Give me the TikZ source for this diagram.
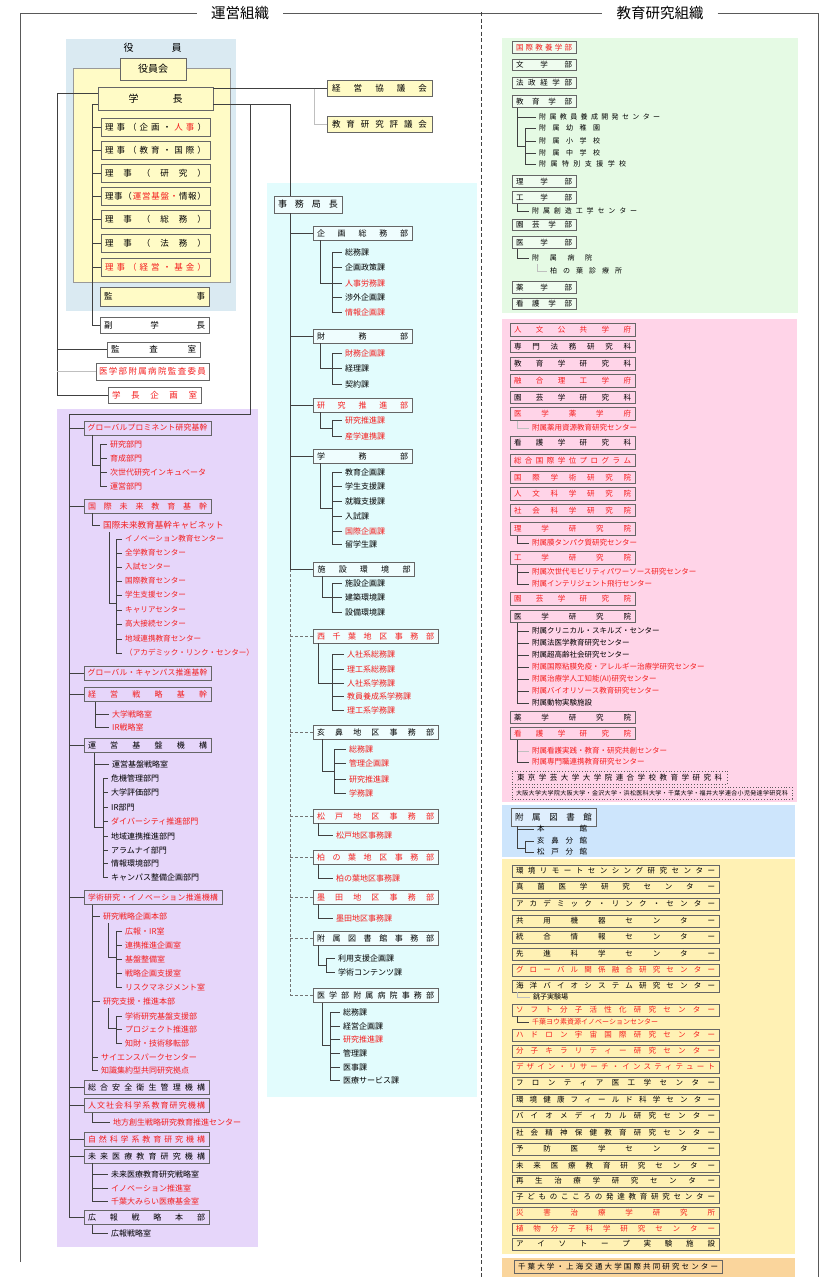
\documentclass[tikz,border=0pt]{standalone}
\usepackage{fontspec}
\setmainfont{Noto Sans CJK JP}

\definecolor{jred}{HTML}{F41E1E}
\definecolor{bgblue}{HTML}{DAEAF2}
\definecolor{bgyel}{HTML}{FFFBC6}
\definecolor{bgcyan}{HTML}{E2FCFD}
\definecolor{bgpurp}{HTML}{E6D6FA}
\definecolor{bggreen}{HTML}{E5FAE4}
\definecolor{bgpink}{HTML}{FFD4E8}
\definecolor{bglblue}{HTML}{CDE5FC}
\definecolor{bgcent}{HTML}{FFF1B4}
\definecolor{bgorange}{HTML}{FAD59C}

\newcommand\fsz[1]{\fontsize{#1}{#1}\selectfont}
\newcommand\rd[1]{\textcolor{jred}{#1}}

% spread the characters of #2 evenly over #1 pt
\makeatletter
\def\sp@endmark{\sp@end}
\def\sp@loop#1{\def\sp@arg{#1}%
  \ifx\sp@arg\sp@endmark\else
    \ifx\sp@first\@empty\hfil\fi
    \let\sp@first\@empty{#1}%
    \expandafter\sp@loop
  \fi}
\newcommand\spr[2]{\makebox[#1pt][s]{\let\sp@first\relax\expandafter\sp@loop#2\sp@end}}
\makeatother

\begin{document}
\begin{tikzpicture}[x=1pt, y=-1pt,
    rule/.style={draw=black!65, line width=0.8pt},
    divider/.style={draw=black!75, line width=1pt, dash pattern=on 4pt off 2.5pt},
    ln/.style={draw=black!75, line width=0.9pt},
    lnl/.style={draw=black!25, line width=0.9pt},
    lnd/.style={draw=black!55, line width=0.8pt, dash pattern=on 3pt off 2pt},
    ttl/.style={inner sep=14pt, font=\fsz{14.5}},
    bx/.style={draw=black!60, line width=0.9pt, inner sep=0pt, font=\fsz{8}},
    dbox/.style={bx, fill=white!45!bgcyan, minimum height=14pt},
    pbox/.style={bx, fill=bgpurp, minimum width=127pt, minimum height=14pt},
    fbox/.style={bx, fill=white!40!bggreen, minimum width=64pt, minimum height=11.5pt, font=\fsz{7.5}},
    gbox/.style={bx, fill=bgpink, minimum width=125pt, minimum height=12.5pt, font=\fsz{7.5}},
    cbox/.style={bx, fill=bgcent, minimum width=207pt, minimum height=12pt, font=\fsz{7.5}},
    dotbox/.style={draw=black!65, line width=0.8pt, dotted, inner sep=0pt},
    item/.style={anchor=west, inner sep=3pt, font=\fsz{8}},
    sitem/.style={anchor=west, inner sep=3pt, font=\fsz{7.5}}]

  \useasboundingbox (0,0) rectangle (821,1277);

  % --- Backgrounds ---
  \fill[bgblue] (66,39) rectangle (236,311);
  \filldraw[fill=bgyel, draw=black!40, line width=0.9pt] (73,68) rectangle (230,282);
  \fill[bgcyan] (267,183) rectangle (477,1097);
  \fill[bgpurp] (57,409) rectangle (258,1247);
  \fill[bggreen] (502,38) rectangle (798,313);
  \fill[bgpink] (502,319) rectangle (797,802);
  \fill[bglblue] (502,805) rectangle (795,857);
  \fill[bgcent] (502,859) rectangle (795,1254);
  \fill[bgorange] (502,1258) rectangle (795,1277);

  % --- Section titles and frame ---
  \node[ttl] (tunei) at (240,13) {運営組織};
  \node[ttl] (tkyoiku) at (660,13) {教育研究組織};
  \draw[rule] (20,1262) |- (tunei.west);
  \draw[rule] (tunei.east) -- (tkyoiku.west);
  \draw[rule] (tkyoiku.east) -| (818,1277);
  \draw[divider] (481,12) -- (481,1277);

  % --- Officers ---
  \node[font=\fsz{10}, inner sep=0pt] (yakuin) at (152.5,48) {\spr{58}{役員}};
  \node[bx, fill=bgyel, minimum width=66pt, minimum height=22pt, font=\fsz{10}] (yakuinkai) at (153,69) {役員会};
  \node[bx, fill=bgyel, minimum width=115pt, minimum height=23pt, font=\fsz{10}] (gakucho) at (155.5,98.5) {\spr{54}{学長}};
  \foreach \i/\y/\txt/\col in {1/127/{理事（企画・{\rd{人}}{\rd{事}}）}/black,2/150/理事（教育・国際）/black,
      3/173/理事（研究）/black,4/196/{理事（{\rd{運}}{\rd{営}}{\rd{基}}{\rd{盤}}{\rd{・}}情報）}/black,
      5/219/理事（総務）/black,6/243/理事（法務）/black,7/267/理事（経営・基金）/jred}
    \node[bx, fill=bgyel, minimum width=109pt, minimum height=18pt, font=\fsz{8.5}, text=\col] (riji\i) at (155.5,\y) {\spr{101}{\txt}};
  \node[bx, fill=bgyel, minimum width=109pt, minimum height=19pt, font=\fsz{8.5}] (kanji) at (154.5,296.5) {\spr{101}{監事}};
  \node[bx, fill=white, minimum width=109pt, minimum height=16pt, font=\fsz{8.5}] (fuku) at (154.5,325) {\spr{101}{副学長}};
  \node[bx, fill=white, minimum width=93pt, minimum height=15pt, font=\fsz{8.5}] (kansa) at (153.5,349.5) {\spr{85}{監査室}};
  \node[bx, fill=white, minimum width=113pt, minimum height=17pt, font=\fsz{8.5}, text=jred] (iinkai) at (152.5,371.5) {\spr{107}{医学部附属病院監査委員}};
  \node[bx, fill=white, minimum width=93pt, minimum height=16pt, font=\fsz{8.5}, text=jred] (kikaku) at (154.5,395) {\spr{85}{学長企画室}};

  \node[bx, fill=bgyel, minimum width=105pt, minimum height=16pt, font=\fsz{8.5}] (keieikyo) at (379.5,88.5) {\spr{95}{経営協議会}};
  \node[bx, fill=bgyel, minimum width=105pt, minimum height=16pt, font=\fsz{8.5}] (hyogikai) at (379.5,124) {\spr{95}{教育研究評議会}};

  \coordinate (rspine) at (92,0);
  \draw[ln] ([yshift=-5.5pt]gakucho.west) -| (rspine |- fuku.west) -- (fuku.west);
  \foreach \i in {1,...,7}
    \draw[ln] (rspine |- riji\i.west) -- (riji\i.west);
  \coordinate (lspine) at (57,0);
  \draw[ln] ([yshift=5.5pt]gakucho.west) -| (lspine |- kikaku.west) -- (kikaku.west);
  \draw[ln] (lspine |- kansa.west) -- (kansa.west);
  \draw[lnl] (lspine |- iinkai.west) -- (iinkai.west);
  \draw[ln] (gakucho.east |- keieikyo.west) -- (keieikyo.west);
  \draw[lnl] ([xshift=-12pt]keieikyo.west) |- (hyogikai.west);

  % --- Secretariat ---
  \node[bx, fill=white!45!bgcyan, minimum width=68pt, minimum height=17pt, font=\fsz{9}] (jimucho) at (308,204.5) {\spr{60}{事務局長}};
  \foreach \n/\x/\y/\w/\s/\txt/\col in {1/362.5/233/99/91/企画総務部/black,2/362.5/336/99/91/財務部/black,
      3/362.5/405/99/91/研究推進部/jred,4/362.5/456/99/91/学務部/black,5/364/569/101/93/施設環境部/black,
      6/375.5/636/125/117/西千葉地区事務部/jred,7/375.5/732/125/117/亥鼻地区事務部/black,
      8/375.5/816/125/117/松戸地区事務部/jred,9/375.5/857/125/117/柏の葉地区事務部/jred,
      10/375.5/897/125/117/墨田地区事務部/jred,11/375.5/938/125/117/附属図書館事務部/black,
      12/375.5/995.5/125/117/医学部附属病院事務部/black}
    \node[dbox, minimum width=\w pt, text=\col] (d\n) at (\x,\y) {\spr{\s}{\txt}};

  \foreach \i/\y/\txt/\col in {1/252/総務課/black,2/267/企画政策課/black,3/283/人事労務課/jred,4/297/渉外企画課/black,5/312/情報企画課/jred}
    \node[item, text=\col] (d1c\i) at (342,\y) {\txt};
  \foreach \i/\y/\txt/\col in {1/353/財務企画課/jred,2/368/経理課/black,3/384/契約課/black}
    \node[item, text=\col] (d2c\i) at (342,\y) {\txt};
  \foreach \i/\y/\txt in {1/420/研究推進課,2/436/産学連携課}
    \node[item, text=jred] (d3c\i) at (342,\y) {\txt};
  \foreach \i/\y/\txt/\col in {1/472/教育企画課/black,2/486/学生支援課/black,3/501/就職支援課/black,4/516/入試課/black,5/531/国際企画課/jred,6/544/留学生課/black}
    \node[item, text=\col] (d4c\i) at (342,\y) {\txt};
  \foreach \i/\y/\txt in {1/583/施設企画課,2/597/建築環境課,3/612/設備環境課}
    \node[item] (d5c\i) at (342,\y) {\txt};
  \foreach \i/\y/\txt in {1/654/人社系総務課,2/669/理工系総務課,3/683/人社系学務課,4/696/教員養成系学務課,5/710/理工系学務課}
    \node[item, text=jred] (d6c\i) at (344,\y) {\txt};
  \foreach \i/\y/\txt in {1/749/総務課,2/763/管理企画課,3/779/研究推進課,4/793/学務課}
    \node[item, text=jred] (d7c\i) at (346,\y) {\txt};
  \node[item, text=jred] (d8c1) at (333,835) {松戸地区事務課};
  \node[item, text=jred] (d9c1) at (333,878) {柏の葉地区事務課};
  \node[item, text=jred] (d10c1) at (333,918) {墨田地区事務課};
  \foreach \i/\y/\txt in {1/958/利用支援企画課,2/972/学術コンテンツ課}
    \node[item] (d11c\i) at (335,\y) {\txt};
  \foreach \i/\y/\txt/\col in {1/1012/総務課/black,2/1026/経営企画課/black,3/1039/研究推進課/jred,4/1053/管理課/black,5/1067/医事課/black,6/1080/医療サービス課/black}
    \node[item, text=\col] (d12c\i) at (340,\y) {\txt};

  \coordinate (jspine) at (290,0);
  \draw[ln] ([yshift=-5.5pt]gakucho.east) -| (jspine |- jimucho.north);
  \draw[ln] (jspine |- jimucho.south) -- (jspine |- d5.west);
  \draw[lnd] (jspine |- d5.west) -- (jspine |- d12.west);
  \foreach \n in {1,...,5}
    \draw[ln] (jspine |- d\n.west) -- (d\n.west);
  \foreach \n in {6,...,12}
    \draw[lnd] (jspine |- d\n.west) -- (d\n.west);
  \foreach \g/\n/\dx/\jx/\jy in {d1/5/320/332/283,d2/3/320/332/368,d3/2/320/332/428,d4/6/320/332/508,
      d5/3/322/332/597,d6/5/318/332/683,d7/4/322/334/771,d8/1/318/333/835,d9/1/318/333/878,
      d10/1/318/333/918,d11/2/318/326/965,d12/6/322/330/1045} {
    \coordinate (\g-d) at (\dx,0);
    \coordinate (\g-j) at (\jx,\jy);
    \draw[ln] (\g-d |- \g.south) |- (\g-j);
    \draw[ln] (\g-j |- \g c1.west) -- (\g-j |- \g c\n.west);
    \foreach \i in {1,...,\n}
      \draw[ln] (\g-j |- \g c\i.west) -- (\g c\i.west);
  }

  % --- Promotion bodies (purple) ---
  \node[pbox, text=jred, font=\fsz{7.8}] (gp) at (147.5,428) {\spr{120}{グローバルプロミネント研究基幹}};
  \node[pbox, text=jred] (kmk) at (147.5,506) {\spr{119}{国際未来教育基幹}};
  \node[pbox, text=jred, font=\fsz{7.8}] (gcp) at (147.5,673) {\spr{120}{グローバル・キャンパス推進基幹}};
  \node[pbox, text=jred] (ksk) at (147.5,694.5) {\spr{119}{経営戦略基幹}};
  \node[pbox] (ukk) at (147.5,745.5) {\spr{119}{運営基盤機構}};
  \node[pbox, text=jred, minimum width=138pt, font=\fsz{7.8}] (gik) at (153,897.5) {\spr{130}{学術研究・イノベーション推進機構}};
  \node[pbox, minimum width=125pt] (sak) at (146.5,1087) {\spr{117}{総合安全衛生管理機構}};
  \node[pbox, minimum width=125pt, text=jred] (jsk) at (146.5,1105.5) {\spr{117}{人文社会科学系教育研究機構}};
  \node[pbox, minimum width=125pt, text=jred] (sks) at (146.5,1139) {\spr{117}{自然科学系教育研究機構}};
  \node[pbox, minimum width=125pt] (mik) at (146.5,1156) {\spr{117}{未来医療教育研究機構}};
  \node[pbox, minimum width=125pt] (kho) at (146.5,1217.5) {\spr{117}{広報戦略本部}};

  \coordinate (pbr) at (250,104);
  \coordinate (ptop) at (69,414);
  \draw[ln] (pbr) |- (ptop);
  \draw[ln] (ptop) -- (ptop |- kho.west);
  \foreach \b in {gp,kmk,gcp,ksk,ukk,gik,sak,jsk,sks,mik,kho}
    \draw[ln] (ptop |- \b.west) -- (\b.west);

  % グローバルプロミネント研究基幹
  \foreach \i/\y/\txt in {1/444/研究部門,2/458/育成部門,3/472/次世代研究インキュベータ,4/486/運営部門}
    \node[item, text=jred] (gp\i) at (107,\y) {\txt};
  \coordinate (gp-d) at ([xshift=9pt]gp.south west);
  \coordinate (gp-j) at (100,465);
  \draw[ln] (gp-d) |- (gp-j);
  \draw[ln] (gp-j |- gp1.west) -- (gp-j |- gp4.west);
  \foreach \i in {1,...,4}
    \draw[ln] (gp-j |- gp\i.west) -- (gp\i.west);

  % 国際未来教育基幹
  \node[item, text=jred, font=\fsz{8.6}] (kmk1) at (100,525) {国際未来教育基幹キャビネット};
  \draw[ln] ([xshift=9pt]kmk.south west) |- (kmk1.west);
  \foreach \i/\y/\txt in {1/539/イノベーション教育センター,2/553/全学教育センター,3/567/入試センター,
      4/581/国際教育センター,5/595/学生支援センター,6/610/キャリアセンター,7/624/高大接続センター,
      8/639/地域連携教育センター,9/653/（アカデミック・リンク・センター）}
    \node[item, text=jred, font=\fsz{7.6}] (kmc\i) at (122,\y) {\txt};
  \coordinate (kmc-d) at (109,532);
  \coordinate (kmc-j) at (116,603);
  \draw[ln] (kmc-d) |- (kmc-j);
  \draw[ln] (kmc-j |- kmc1.west) -- (kmc-j |- kmc9.west);
  \foreach \i in {1,...,9}
    \draw[ln] (kmc-j |- kmc\i.west) -- (kmc\i.west);

  % 経営戦略基幹
  \foreach \i/\y/\txt in {1/714/大学戦略室,2/727/IR戦略室}
    \node[item, text=jred] (ksk\i) at (109,\y) {\txt};
  \coordinate (ksk-d) at ([xshift=12pt]ksk.south west);
  \draw[ln] (ksk-d) |- (ksk2.west);
  \draw[ln] (ksk-d |- ksk1.west) -- (ksk1.west);

  % 運営基盤機構
  \node[item] (uk0) at (109,764) {運営基盤戦略室};
  \foreach \i/\y/\txt/\col in {1/778/危機管理部門/black,2/792/大学評価部門/black,3/807/IR部門/black,
      4/821/ダイバーシティ推進部門/jred,5/836/地域連携推進部門/black,6/850/アラムナイ部門/black,
      7/863/情報環境部門/black,8/877/キャンパス整備企画部門/black}
    \node[item, text=\col] (uk\i) at (108,\y) {\txt};
  \coordinate (uk-d) at ([xshift=11pt]ukk.south west);
  \coordinate (uk-j) at (103,827);
  \draw[ln] (uk-d) |- (uk-j);
  \draw[ln] (uk-d |- uk0.west) -- (uk0.west);
  \draw[ln] (uk-j |- uk1.west) -- (uk-j |- uk8.west);
  \foreach \i in {1,...,8}
    \draw[ln] (uk-j |- uk\i.west) -- (uk\i.west);

  % 学術研究・イノベーション推進機構
  \foreach \i/\y/\x/\txt in {1/916/100/研究戦略企画本部,2/1001/100/研究支援・推進本部,3/1057/98/サイエンスパークセンター,4/1070/98/知識集約型共同研究拠点}
    \node[item, text=jred] (gk\i) at (\x,\y) {\txt};
  \coordinate (gk-d) at ([xshift=9pt]gik.south west);
  \draw[ln] (gk-d) |- (gk4.west);
  \foreach \i in {1,2,3}
    \draw[ln] (gk-d |- gk\i.west) -- (gk\i.west);
  \foreach \i/\y/\txt in {1/931/広報・IR室,2/945/連携推進企画室,3/959/基盤整備室,4/973/戦略企画支援室,5/987/リスクマネジメント室}
    \node[item, text=jred] (gs\i) at (122,\y) {\txt};
  \coordinate (gs-d) at (108,923);
  \coordinate (gs-j) at (116,957);
  \draw[ln] (gs-d) |- (gs-j);
  \draw[ln] (gs-j |- gs1.west) -- (gs-j |- gs5.west);
  \foreach \i in {1,...,5}
    \draw[ln] (gs-j |- gs\i.west) -- (gs\i.west);
  \foreach \i/\y/\txt in {1/1016/学術研究基盤支援部,2/1029/プロジェクト推進部,3/1043/知財・技術移転部}
    \node[item, text=jred] (gt\i) at (122,\y) {\txt};
  \coordinate (gt-d) at (108,1008);
  \coordinate (gt-j) at (116,1028);
  \draw[ln] (gt-d) |- (gt-j);
  \draw[ln] (gt-j |- gt1.west) -- (gt-j |- gt3.west);
  \foreach \i in {1,2,3}
    \draw[ln] (gt-j |- gt\i.west) -- (gt\i.west);

  % 人文社会科学系 / 未来医療 / 広報
  \node[item, text=jred] (js1) at (110,1122) {地方創生戦略研究教育推進センター};
  \draw[ln] ([xshift=9pt]jsk.south west) |- (js1.west);
  \foreach \i/\y/\txt/\col in {1/1174/未来医療教育研究戦略室/black,2/1188/イノベーション推進室/jred,3/1201/千葉大みらい医療基金室/jred}
    \node[item, text=\col] (mi\i) at (108,\y) {\txt};
  \coordinate (mi-d) at ([xshift=9pt]mik.south west);
  \draw[ln] (mi-d) |- (mi3.west);
  \foreach \i in {1,2}
    \draw[ln] (mi-d |- mi\i.west) -- (mi\i.west);
  \node[item] (ko1) at (108,1233) {広報戦略室};
  \draw[ln] ([xshift=9pt]kho.south west) |- (ko1.west);

  % --- Faculties (green) ---
  \foreach \n/\y/\txt/\col in {1/47.5/国際教養学部/jred,2/65/文学部/black,3/83/法政経学部/black,4/101.5/教育学部/black,
      5/181.5/理学部/black,6/197.5/工学部/black,7/225/園芸学部/black,8/242.5/医学部/black,9/287.5/薬学部/black,10/304/看護学部/black}
    \node[fbox, text=\col] (fac\n) at (544,\y) {\spr{56}{\txt}};
  \foreach \i/\y/\w/\txt in {1/117/121/附属教員養成開発センター,2/128/61/附属幼稚園,3/141/61/附属小学校,4/153/61/附属中学校,5/164/87/附属特別支援学校}
    \node[sitem, font=\fsz{7}] (ed\i) at (536,\y) {\spr{\w}{\txt}};
  \coordinate (ed-d) at ([xshift=6pt]fac4.south west);
  \coordinate (ed-j) at (525,146);
  \draw[ln] (ed-d) |- (ed-j);
  \draw[ln] (ed-d |- ed1.west) -- (ed1.west);
  \draw[ln] (ed-j |- ed2.west) -- (ed-j |- ed5.west);
  \foreach \i in {2,...,5}
    \draw[ln] (ed-j |- ed\i.west) -- (ed\i.west);
  \node[sitem, font=\fsz{7}] (eg1) at (529,211) {\spr{105}{附属創造工学センター}};
  \draw[ln] ([xshift=6pt]fac6.south west) |- (eg1.west);
  \node[sitem, font=\fsz{7}] (md1) at (529,258) {\spr{60}{附属病院}};
  \node[sitem, font=\fsz{7}] (md2) at (547,271) {\spr{72}{柏の葉診療所}};
  \draw[ln] ([xshift=6pt]fac8.south west) |- (md1.west);
  \draw[lnl] ([xshift=8pt]md1.south west) |- (md2.west);

  % --- Graduate schools (pink) ---
  \foreach \n/\y/\txt/\col in {1/330/人文公共学府/jred,2/346.5/専門法務研究科/black,3/364/教育学研究科/black,
      4/381/融合理工学府/jred,5/397.5/園芸学研究科/black,6/414/医学薬学府/jred,7/443/看護学研究科/black,
      8/460.5/総合国際学位プログラム/jred,9/477.5/国際学術研究院/jred,10/494/人文科学研究院/jred,
      11/510.5/社会科学研究院/jred,12/529/理学研究院/jred,13/558/工学研究院/jred,14/599/園芸学研究院/jred,
      15/616.5/医学研究院/black,16/717.5/薬学研究院/black,17/733.5/看護学研究院/jred}
    \node[gbox, text=\col] (pk\n) at (572.5,\y) {\spr{117}{\txt}};
  \node[sitem, text=jred] (py1) at (529,428) {附属薬用資源教育研究センター};
  \draw[lnl] ([xshift=8pt]pk6.south west) |- (py1.west);
  \node[sitem, text=jred] (pr1) at (529,543) {附属膜タンパク質研究センター};
  \draw[ln] ([xshift=8pt]pk12.south west) |- (pr1.west);
  \foreach \i/\y/\txt in {1/572/附属次世代モビリティパワーソース研究センター,2/584/附属インテリジェント飛行センター}
    \node[sitem, text=jred] (pt\i) at (529,\y) {\txt};
  \coordinate (pt-d) at ([xshift=8pt]pk13.south west);
  \draw[ln] (pt-d) |- (pt2.west);
  \draw[ln] (pt-d |- pt1.west) -- (pt1.west);
  \foreach \i/\y/\txt/\col in {1/631/附属クリニカル・スキルズ・センター/black,2/643/附属法医学教育研究センター/black,
      3/655/附属超高齢社会研究センター/black,4/667/附属国際粘膜免疫・アレルギー治療学研究センター/jred,
      5/679/附属治療学人工知能(AI)研究センター/jred,6/691/附属バイオリソース教育研究センター/jred,7/703/附属動物実験施設/black}
    \node[sitem, text=\col] (pi\i) at (529,\y) {\txt};
  \coordinate (pi-d) at ([xshift=8pt]pk15.south west);
  \draw[ln] (pi-d) |- (pi7.west);
  \foreach \i in {1,...,6}
    \draw[ln] (pi-d |- pi\i.west) -- (pi\i.west);
  \foreach \i/\y/\txt in {1/751/附属看護実践・教育・研究共創センター,2/762/附属専門職連携教育研究センター}
    \node[sitem, text=jred] (pn\i) at (529,\y) {\txt};
  \coordinate (pn-d) at ([xshift=8pt]pk17.south west);
  \draw[ln] (pn-d) |- (pn2.west);
  \draw[lnl] (pn-d |- pn1.west) -- (pn1.west);
  \node[dotbox, minimum width=215pt, minimum height=13pt, font=\fsz{7.5}] (tgu) at (619.5,777.5) {\spr{205}{東京学芸大学大学院連合学校教育学研究科}};
  \node[dotbox, minimum width=280pt, minimum height=12pt, font=\fsz{6}] (osk) at (652,793) {\spr{272}{大阪大学大学院大阪大学・金沢大学・浜松医科大学・千葉大学・福井大学連合小児発達学研究科}};

  % --- Library (blue) ---
  \node[bx, fill=white!35!bglblue, minimum width=85pt, minimum height=18pt, font=\fsz{8.5}] (lib) at (553.5,817) {\spr{77}{附属図書館}};
  \foreach \i/\y/\txt in {1/829/本館,2/841/亥鼻分館,3/852/松戸分館}
    \node[sitem] (lb\i) at (534,\y) {\spr{50}{\txt}};
  \coordinate (lb-d) at ([xshift=7pt]lib.south west);
  \coordinate (lb-j) at (525,848);
  \draw[ln] (lb-d) |- (lb-j);
  \draw[ln] (lb-d |- lb1.west) -- (lb1.west);
  \draw[ln] (lb-j |- lb2.west) -- (lb-j |- lb3.west);
  \foreach \i in {2,3}
    \draw[ln] (lb-j |- lb\i.west) -- (lb\i.west);

  % --- Research centres (yellow) ---
  \foreach \n/\y/\txt/\col in {1/871/環境リモートセンシング研究センター/black,2/887/真菌医学研究センター/black,
      3/904/アカデミック・リンク・センター/black,4/921/共用機器センター/black,5/937/統合情報センター/black,
      6/954/先進科学センター/black,7/970/グローバル関係融合研究センター/jred,8/986/海洋バイオシステム研究センター/black,
      9/1010/ソフト分子活性化研究センター/jred,10/1035/ハドロン宇宙国際研究センター/jred,
      11/1051/分子キラリティー研究センター/jred,12/1067/デザイン・リサーチ・インスティテュート/jred,
      13/1083/フロンティア医工学センター/black,14/1100/環境健康フィールド科学センター/black,
      15/1116/バイオメディカル研究センター/black,16/1133/社会精神保健教育研究センター/black,
      17/1149/予防医学センター/black,18/1166/未来医療教育研究センター/black,19/1181/再生治療学研究センター/black,
      20/1197/子どものこころの発達教育研究センター/black,21/1213/災害治療学研究所/jred,
      22/1229/植物分子科学研究センター/jred,23/1244/アイソトープ実験施設/black}
    \node[cbox, text=\col] (c\n) at (615.5,\y) {\spr{199}{\txt}};
  \node[sitem, font=\fsz{7}] (cc1) at (530,997) {銚子実験場};
  \draw[lnl] ([xshift=6pt]c8.south west) |- (cc1.west);
  \node[sitem, font=\fsz{7}, text=jred] (cc2) at (529,1022) {千葉ヨウ素資源イノベーションセンター};
  \draw[ln] ([xshift=6pt]c9.south west) |- (cc2.west);

  % --- Joint centre (orange) ---
  \node[bx, minimum width=208pt, minimum height=13pt, font=\fsz{7.5}] (sjtu) at (618,1267) {\spr{200}{千葉大学・上海交通大学国際共同研究センター}};

\end{tikzpicture}
\end{document}
